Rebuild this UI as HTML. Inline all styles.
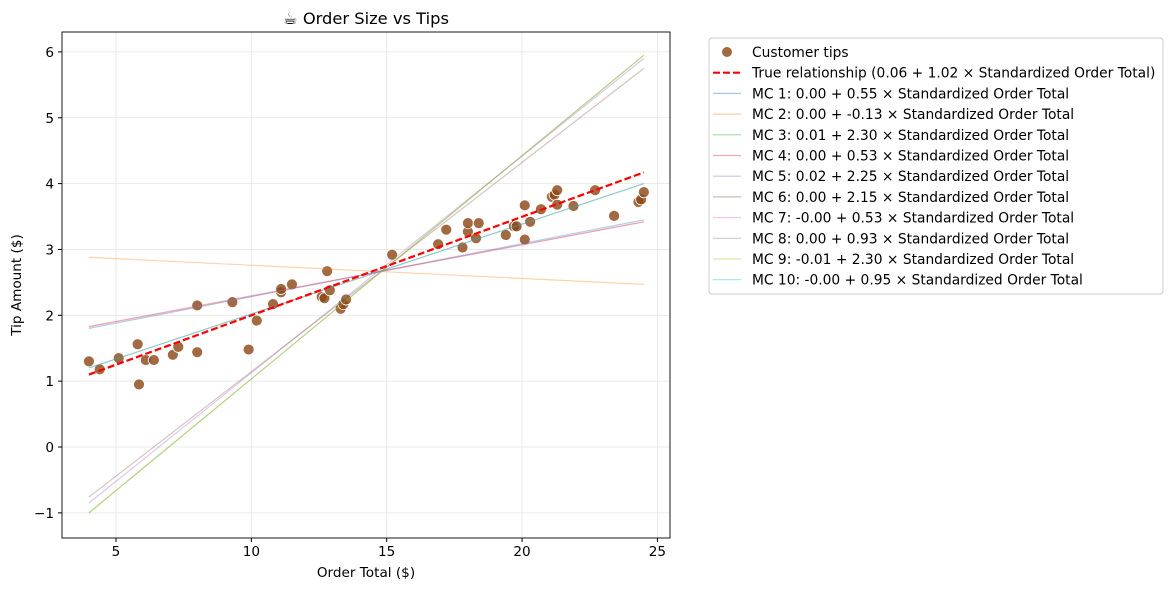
<!DOCTYPE html>
<html><head><meta charset="utf-8"><style>
body{margin:0;background:#fff;font-family:"Liberation Sans","DejaVu Sans",sans-serif;}
svg text{font-family:"DejaVu Sans","Liberation Sans",sans-serif;}
</style></head><body>
<svg id="c" width="1174" height="590" xmlns="http://www.w3.org/2000/svg"></svg>
<script>
const ptX=[4.0,4.4,5.1,5.8,5.85,6.1,6.4,7.1,7.3,8.0,8.0,9.3,9.9,10.2,10.8,11.1,11.1,11.5,12.6,12.7,12.8,12.9,13.3,13.4,13.5,15.2,16.9,17.2,17.8,18.0,18.0,18.3,18.4,19.4,19.7,19.8,20.1,20.1,20.3,20.7,21.1,21.2,21.3,21.3,21.9,22.7,23.4,24.3,24.4,24.5];
const ptY=[1.30,1.18,1.35,1.56,0.95,1.32,1.32,1.40,1.52,2.15,1.44,2.20,1.48,1.92,2.17,2.35,2.40,2.47,2.28,2.26,2.67,2.38,2.10,2.17,2.24,2.92,3.08,3.30,3.03,3.27,3.40,3.17,3.40,3.22,3.35,3.35,3.15,3.67,3.42,3.61,3.80,3.83,3.90,3.68,3.66,3.90,3.51,3.72,3.76,3.87];
const xRange=[4.0,24.5];
const trueStartEnd=[1.10,4.17];
const mcLabels=["MC 1: 0.00 + 0.55 × Standardized Order Total","MC 2: 0.00 + -0.13 × Standardized Order Total","MC 3: 0.01 + 2.30 × Standardized Order Total","MC 4: 0.00 + 0.53 × Standardized Order Total","MC 5: 0.02 + 2.25 × Standardized Order Total","MC 6: 0.00 + 2.15 × Standardized Order Total","MC 7: -0.00 + 0.53 × Standardized Order Total","MC 8: 0.00 + 0.93 × Standardized Order Total","MC 9: -0.01 + 2.30 × Standardized Order Total","MC 10: -0.00 + 0.95 × Standardized Order Total"];
const mcStart=[1.80,2.88,-1.00,1.83,-0.85,-0.76,1.82,1.20,-1.00,1.20];
const mcEnd=[3.45,2.47,5.95,3.42,5.90,5.75,3.42,4.00,5.95,4.00];
const xTicks=[5,10,15,20,25];
const yTicks=[-1,0,1,2,3,4,5,6];
const colors=["#1f77b4","#ff7f0e","#2ca02c","#d62728","#9467bd","#8c564b","#e377c2","#7f7f7f","#bcbd22","#17becf"];

const svg=document.getElementById('c');
const NS="http://www.w3.org/2000/svg";
const L=62,R=670,T=32,B=538;
const sx=v=>116+(v-5)*27.07;
const sy=v=>447-v*65.85;
function mk(tag,attrs,parent){const e=document.createElementNS(NS,tag);for(const k in attrs)e.setAttribute(k,attrs[k]);(parent||svg).appendChild(e);return e;}
function tx(x,y,s,attrs){const e=mk('text',Object.assign({x:x,y:y,'font-size':13.6,fill:'#000'},attrs||{}));e.textContent=s;return e;}

const grid=mk('g',{});


xTicks.forEach(t=>{mk('line',{x1:sx(t),x2:sx(t),y1:T,y2:B,stroke:'#e5e5e5','stroke-width':0.8},grid);
 mk('line',{x1:sx(t),x2:sx(t),y1:B,y2:B+4,stroke:'#000'});
 const e=tx(sx(t),B+18,String(t),{'text-anchor':'middle'});
 
 });
yTicks.forEach(t=>{mk('line',{x1:L,x2:R,y1:sy(t),y2:sy(t),stroke:'#e5e5e5','stroke-width':0.8},grid);
 mk('line',{x1:L-4,x2:L,y1:sy(t),y2:sy(t),stroke:'#000'});
 const e=tx(L-8,sy(t)+5,t<0?'\u2212'+(-t):String(t),{'text-anchor':'end'});
 
 });

ptX.forEach((x,i)=>{const c=mk('circle',{cx:sx(x),cy:sy(ptY[i]),r:5.5,fill:'#8b4513','fill-opacity':0.8,stroke:'#fff','stroke-width':0.8});
 
 });
mcStart.forEach((s,i)=>{const l=mk('line',{x1:sx(xRange[0]),y1:sy(s),x2:sx(xRange[1]),y2:sy(mcEnd[i]),stroke:colors[i],'stroke-opacity':0.35,'stroke-width':1.2});
 
 });
const tl=mk('line',{x1:sx(xRange[0]),y1:sy(trueStartEnd[0]),x2:sx(xRange[1]),y2:sy(trueStartEnd[1]),stroke:'#ff0000','stroke-width':2.2,'stroke-dasharray':'7,3'});



const frame=mk('rect',{x:L,y:T,width:R-L,height:B-T,fill:'none',stroke:'#000','stroke-width':0.9});


const tt=tx(366,24,'\u2615 Order Size vs Tips',{'text-anchor':'middle','font-size':16.3});


const xt=tx(366,577,'Order Total ($)',{'text-anchor':'middle'});


const yt=tx(21,285,'Tip Amount ($)',{'text-anchor':'middle',transform:'rotate(-90 21 285)'});



const lg=mk('g',{});


mk('rect',{x:709,y:38,width:454,height:256,rx:3,fill:'#fff',stroke:'#ccc'},lg);
const rowY=i=>52+i*20.7;
const LF=13.8;
mk('circle',{cx:727,cy:rowY(0),r:5.5,fill:'#8b4513','fill-opacity':0.8,stroke:'#fff'},lg);
tx(752,rowY(0)+5,'Customer tips',{'font-size':LF});
mk('line',{x1:713,x2:741,y1:rowY(1),y2:rowY(1),stroke:'#ff0000','stroke-width':2.2,'stroke-dasharray':'7,3'},lg);
tx(752,rowY(1)+5,'True relationship (0.06 + 1.02 × Standardized Order Total)',{'font-size':LF});
mcLabels.forEach((s,i)=>{mk('line',{x1:713,x2:741,y1:rowY(i+2),y2:rowY(i+2),stroke:colors[i],'stroke-opacity':0.4,'stroke-width':1.2},lg);
 const e=tx(752,rowY(i+2)+5,s,{'font-size':LF});
 
 });
</script>
</body></html>
